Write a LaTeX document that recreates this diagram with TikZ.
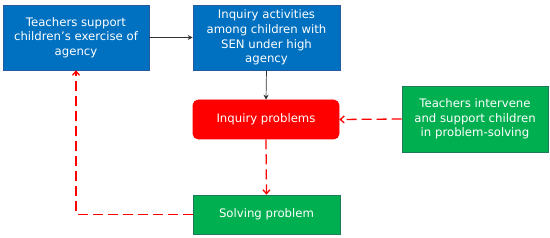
\documentclass[tikz,border=0pt]{standalone}
\usepackage{fontspec}
\setmainfont{DejaVu Sans}
\usetikzlibrary{arrows.meta,positioning}
\definecolor{bluebox}{RGB}{0,112,192}
\definecolor{blueedge}{RGB}{40,90,160}
\definecolor{greenbox}{RGB}{0,176,80}
\definecolor{greenedge}{RGB}{30,120,90}
\definecolor{redbox}{RGB}{255,0,0}
\tikzset{
  box/.style={draw, line width=0.6pt, text=white, align=center, font=\fontsize{11.7}{14.6}\selectfont, inner sep=0pt},
  bluen/.style={box, fill=bluebox, draw=blueedge},
  greenn/.style={box, fill=greenbox, draw=greenedge},
  redn/.style={box, fill=redbox, draw=redbox, rounded corners=5pt},
  solidarrow/.style={-{Stealth[length=5pt,width=5pt]}, line width=0.7pt, black!80},
  dasharrow/.style={-{Straight Barb[length=4pt,width=7pt]}, line width=1.3pt, redbox, dash pattern=on 10pt off 5pt},
}
\begin{document}
\begin{tikzpicture}[x=1pt,y=-1pt]
\useasboundingbox (0,0) rectangle (550,238);
\node[bluen, minimum width=146pt, minimum height=65pt] (A) at (76,37.5) {Teachers support\\children's exercise of\\agency};
\node[bluen, minimum width=147pt, minimum height=65pt] (B) at (266.5,37.5) {Inquiry activities\\among children with\\SEN under high\\agency};
\node[redn, minimum width=146pt, minimum height=39pt] (C) at (266,119.5) {Inquiry problems};
\node[greenn, minimum width=146pt, minimum height=66pt] (D) at (475,119) {Teachers intervene\\and support children\\in problem-solving};
\node[greenn, minimum width=147pt, minimum height=39pt] (E) at (266.5,214.5) {Solving problem};
\draw[solidarrow] (A.east) -- (B.west);
\draw[solidarrow] (B.south) -- (C.north);
\draw[dasharrow] (C.south) -- (E.north);
\draw[dasharrow] (D.west) -- (C.east);
\coordinate (K) at (76,214.5);
\draw[dasharrow] (E.west) -- (K) -- (A.south);
\end{tikzpicture}
\end{document}
